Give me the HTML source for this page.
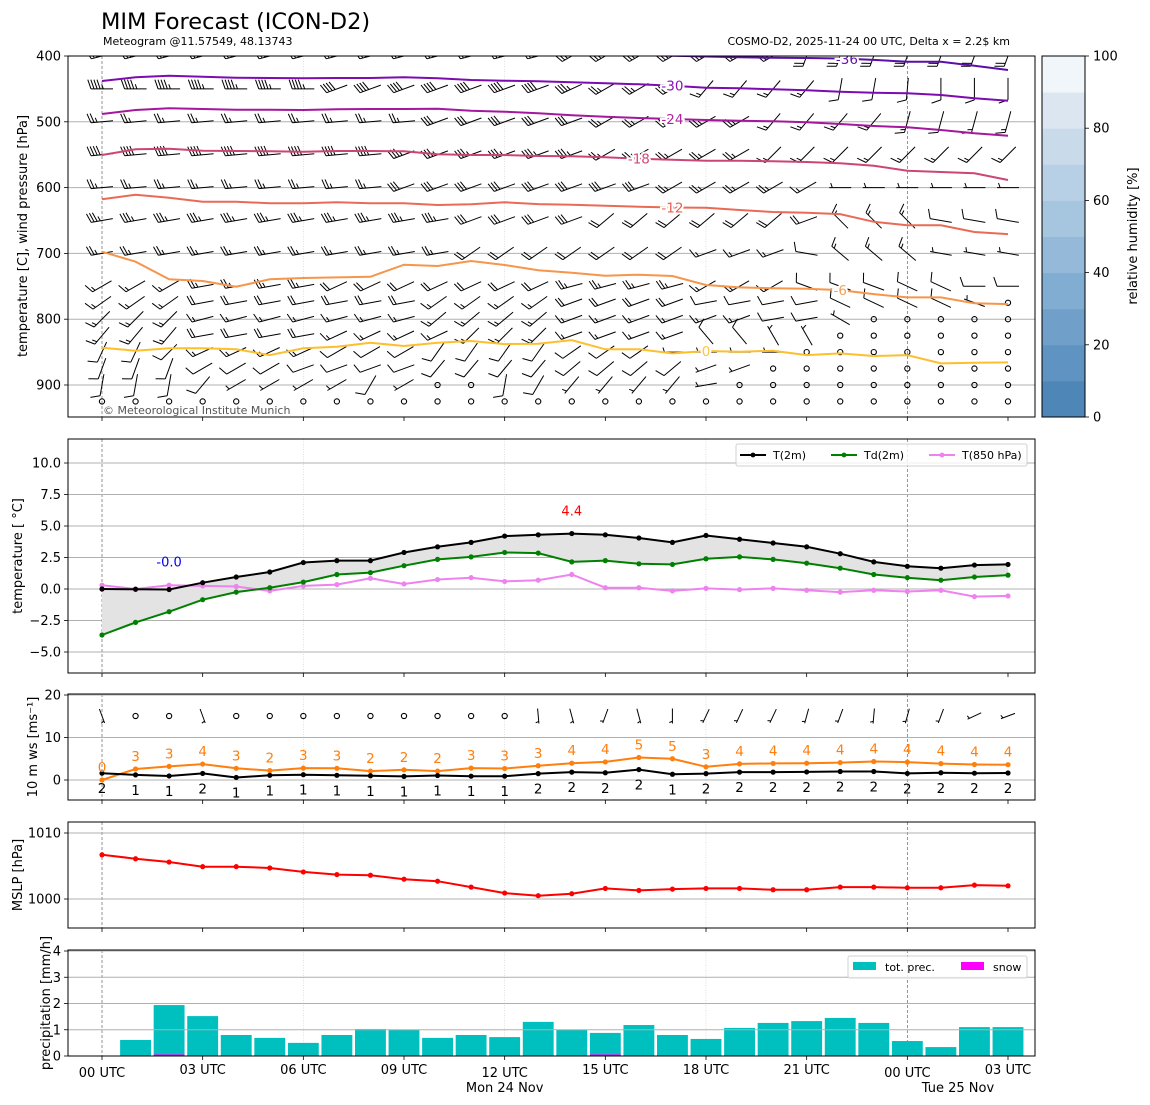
<!DOCTYPE html>
<html><head><meta charset="utf-8">
<style>
html,body{margin:0;padding:0;background:#fff;}
svg{display:block;font-family:"DejaVu Sans","Liberation Sans",sans-serif;}
</style></head>
<body>
<svg id="chart" width="1150" height="1105" viewBox="0 0 1150 1105" xmlns="http://www.w3.org/2000/svg">
<defs>
<clipPath id="clipTop"><rect x="68" y="56" width="967" height="361"/></clipPath>
</defs>
<text x="101" y="29" font-size="22.5" fill="#000">MIM Forecast (ICON-D2)</text>
<text x="103" y="45" font-size="11" fill="#000">Meteogram @11.57549, 48.13743</text>
<text x="1010" y="45" font-size="11" fill="#000" text-anchor="end">COSMO-D2, 2025-11-24 00 UTC, Delta x = 2.2$ km</text>
<g id="layer"></g>
</svg>
<script>
// ---------- data ----------
const hours = [0,1,2,3,4,5,6,7,8,9,10,11,12,13,14,15,16,17,18,19,20,21,22,23,24,25,26,27];
const xTickHours = [0,3,6,9,12,15,18,21,24,27];
const xTickLabels = ["00 UTC","03 UTC","06 UTC","09 UTC","12 UTC","15 UTC","18 UTC","21 UTC","00 UTC","03 UTC"];

const isoLevels = [-36,-30,-24,-18,-12,-6,0];
const isoM36 = [398,398,398,398,398,398,398,398,398,398,398,398,398,398,398,398,399,399.5,400.8,402,402.6,403,403.8,406,408.7,408.7,414.7,421.3];
const isoM30 = [438,432.4,429.9,431.5,433,433.4,433.9,433.4,433.4,432.4,433.9,436.5,437.5,438.5,440,441.5,443,445.1,448.2,449.1,450.6,452.1,454.3,455.8,456.7,459.3,464.3,467.9];
const isoM24 = [488.2,482.1,479.5,480.6,481.6,481.6,482.1,481,480.6,480.6,480.1,483.1,484.7,487.1,490.1,492.3,494.2,495.8,497.3,498.3,499.3,500.8,503.4,506.4,508.4,512.5,517.5,521.1];
const isoM18 = [550.5,541.8,540.9,543.9,544.4,544.9,545.5,544.4,544.4,544.9,549.4,550.5,550.5,552,552.5,554,556.1,557.6,559.1,559.1,560,561.1,563.1,566.7,574.3,576.3,578.3,588.5];
const isoM12 = [617.8,610.8,615.4,621.5,621.5,623.9,623.9,622.4,623.9,623.9,626.5,625.4,622.4,625,626,627.5,629.1,630.3,630.6,634.1,637.1,638.2,640.2,651.9,657.3,657.3,667.5,670.6];
const isoM6 = [697.4,712.6,739.4,742,750.6,739.4,737.4,736.4,735.5,717.2,719.2,711.6,717.7,725.7,729.4,733.9,732.4,734.4,748.1,751.6,753.1,753.7,755.7,761.8,766.8,766.8,775.9,777];
const iso0 = [843.4,847.9,844.3,844.3,845.8,854.5,844.3,841.9,835.8,840.8,835.8,833.2,837.8,837.3,831.7,845.8,845.8,851.9,848.4,849.5,847.9,854.5,851.9,856,854.5,867.1,866.2,865.6];
const isoLabelHour = [22.2,17,17,16,17,22,18];

const barbLevels = [400,450,500,550,600,650,700,750,775,800,825,850,875,900,925];
const spd400 = [45,45,45,45,45,45,45,45,45,45,45,45,45,45,30,30,30,30,30,30,30,20,20,20,20,20,20,20];
const dir400 = [255,255,255,255,255,255,255,255,255,255,255,255,255,255,240,240,240,240,240,240,240,200,200,200,200,200,200,200];
const spd450 = [45,45,45,45,45,45,45,40,40,40,40,40,40,40,35,25,25,25,15,15,15,15,10,10,10,10,10,10];
const dir450 = [270,270,270,270,270,270,270,250,250,250,250,250,250,250,245,240,240,240,220,220,220,220,190,190,185,180,180,180];
const spd500 = [25,25,25,25,25,25,25,25,25,25,30,30,30,30,30,25,25,25,25,25,15,15,15,15,15,15,15,15];
const dir500 = [265,265,265,265,265,265,265,265,265,265,250,250,250,250,250,240,240,240,240,240,220,220,220,220,195,195,195,195];
const spd550 = [40,40,40,40,40,40,40,40,40,35,35,35,35,35,35,25,25,25,25,25,15,15,15,15,15,15,15,15];
const dir550 = [265,265,265,265,265,265,265,265,265,250,250,250,250,250,250,240,240,240,240,240,225,225,225,225,225,225,225,225];
const spd600 = [25,25,25,25,25,25,25,25,25,30,30,30,30,30,30,30,30,25,25,25,25,15,5,5,5,5,5,5];
const dir600 = [265,265,265,265,265,265,265,265,265,250,250,250,250,250,250,250,250,240,240,240,240,240,270,270,270,270,270,270];
const spd650 = [35,35,35,35,35,35,35,35,35,35,35,30,30,30,30,20,20,20,20,20,20,20,15,15,15,10,10,10];
const dir650 = [260,260,260,260,260,260,260,260,260,260,260,250,250,250,250,230,230,230,230,230,230,250,315,315,315,280,280,280];
const spd700 = [25,25,25,25,25,25,25,25,25,25,25,20,20,20,20,20,20,20,15,15,15,10,15,15,15,5,5,5];
const dir700 = [260,260,260,260,260,260,260,260,260,260,260,235,235,235,235,235,235,235,250,250,250,280,310,310,310,280,280,280];
const spd750 = [15,15,15,25,25,25,25,20,20,20,20,20,20,20,25,25,25,25,15,15,15,10,10,10,10,10,10,10];
const dir750 = [240,240,240,260,260,260,260,245,245,245,245,245,245,245,255,255,255,255,240,240,240,290,290,290,295,295,270,270];
const spd775 = [15,15,15,20,20,20,20,20,20,20,15,15,15,15,20,20,20,20,10,10,10,10,10,10,10,10,5,0];
const dir775 = [235,235,235,260,260,260,260,260,260,260,235,235,235,235,250,250,250,250,260,260,260,260,295,295,295,295,290,0];
const spd800 = [15,15,15,15,15,15,15,15,15,15,15,15,15,15,15,15,15,15,15,15,10,10,5,0,0,0,0,0];
const dir800 = [225,225,225,255,255,255,255,255,255,255,230,230,230,230,250,250,250,250,250,250,260,260,300,0,0,0,0,0];
const spd825 = [15,15,15,20,20,20,20,15,15,15,15,15,15,15,15,15,15,15,10,10,5,5,0,0,0,0,0,0];
const dir825 = [220,220,220,260,260,260,260,245,245,245,245,225,225,225,250,250,250,250,320,320,330,330,0,0,0,0,0,0];
const spd850 = [10,10,10,15,15,15,15,10,10,10,10,10,10,10,10,10,10,5,5,5,5,0,0,0,0,0,0,0];
const dir850 = [205,205,225,245,245,245,245,240,240,240,215,215,215,215,235,235,235,270,270,270,270,0,0,0,0,0,0,0];
const spd875 = [10,10,10,10,10,10,10,10,10,10,10,10,10,10,10,10,10,10,5,5,0,0,0,0,0,0,0,0];
const dir875 = [200,200,200,240,240,240,250,250,250,250,220,220,220,220,230,230,230,230,250,250,0,0,0,0,0,0,0,0];
const spd900 = [10,10,10,10,5,5,5,5,10,5,0,0,10,10,5,5,5,5,5,0,0,0,0,0,0,0,0,0];
const dir900 = [190,190,190,220,240,240,240,240,210,240,0,0,190,210,220,220,220,220,260,0,0,0,0,0,0,0,0,0];
const spd925 = [0,0,0,0,0,0,0,0,0,0,0,0,0,0,0,0,0,0,0,0,0,0,0,0,0,0,0,0];
const dir925 = [0,0,0,0,0,0,0,0,0,0,0,0,0,0,0,0,0,0,0,0,0,0,0,0,0,0,0,0];

const pTicks = [400,500,600,700,800,900];
const rhTicks = [0,20,40,60,80,100];

const t2m = [0,-0.02,-0.04,0.5,0.95,1.35,2.1,2.25,2.25,2.9,3.35,3.7,4.2,4.3,4.4,4.3,4.05,3.7,4.25,3.95,3.65,3.35,2.8,2.15,1.8,1.65,1.9,1.95];
const td2m = [-3.65,-2.65,-1.8,-0.85,-0.25,0.1,0.55,1.15,1.3,1.85,2.35,2.55,2.9,2.85,2.15,2.25,2.0,1.95,2.4,2.55,2.35,2.05,1.65,1.15,0.9,0.7,0.95,1.1];
const t850 = [0.3,0.0,0.3,0.25,0.2,-0.15,0.25,0.35,0.85,0.4,0.75,0.9,0.6,0.7,1.15,0.1,0.1,-0.15,0.05,-0.05,0.05,-0.1,-0.25,-0.1,-0.2,-0.1,-0.6,-0.55];
const tTicks = [-5,-2.5,0,2.5,5,7.5,10];
const tTickLabels = ["−5.0","−2.5","0.0","2.5","5.0","7.5","10.0"];

const windSpeed = [1.6,1.2,0.95,1.55,0.6,1.1,1.25,1.1,1.0,0.85,1.05,0.9,0.9,1.5,1.85,1.7,2.45,1.35,1.5,1.85,1.85,1.9,2.0,2.0,1.55,1.7,1.6,1.65];
const windGust = [0,2.6,3.2,3.75,2.75,2.2,2.8,2.75,2.1,2.4,2.1,2.8,2.7,3.35,3.95,4.25,5.3,5.0,3.1,3.8,3.9,3.95,4.1,4.35,4.2,3.85,3.65,3.6];
const sfcBarbSpd = [5,0,0,5,0,0,0,0,0,0,0,0,0,5,5,5,5,5,5,5,5,5,5,5,5,5,5,5];
const sfcBarbDir = [160,0,0,160,0,0,0,0,0,0,0,0,0,175,165,200,165,180,205,205,205,195,200,185,195,200,245,250];
const wTicks = [0,10,20];

const mslp = [1006.7,1006.1,1005.6,1004.9,1004.9,1004.7,1004.1,1003.7,1003.6,1003.0,1002.7,1001.8,1000.9,1000.5,1000.8,1001.6,1001.3,1001.5,1001.6,1001.6,1001.4,1001.4,1001.8,1001.8,1001.7,1001.7,1002.1,1002.0];
const mTicks = [1000,1010];

const precipHours = [1,2,3,4,5,6,7,8,9,10,11,12,13,14,15,16,17,18,19,20,21,22,23,24,25,26,27];
const precip = [0.61,1.94,1.52,0.8,0.69,0.5,0.8,1.03,0.99,0.69,0.8,0.72,1.3,0.99,0.88,1.18,0.8,0.65,1.07,1.26,1.33,1.45,1.26,0.57,0.34,1.1,1.1];
const snow = [0,0.06,0,0,0,0,0,0,0,0,0,0,0,0,0.06,0,0,0,0,0,0,0,0,0,0,0,0];
const rTicks = [0,1,2,3,4];

// ---------- scales ----------
const X0 = 102, DX = 906/27;
function xs(h){ return X0 + h*DX; }
function pyTop(p){ return 56 + (p-400)*0.658; }
function tyT(v){ return 589 - v*12.6; }
function wyW(v){ return 780 - v*4.25; }
function myM(v){ return 899 - (v-1000)*6.6; }
function ryR(v){ return 1056 - v*26.25; }

const NS = "http://www.w3.org/2000/svg";
const layer = document.getElementById('layer');
function mk(tag, attrs, parent){
  const e = document.createElementNS(NS, tag);
  for (const k in attrs) e.setAttribute(k, attrs[k]);
  (parent||layer).appendChild(e);
  return e;
}
function grp(name){
  const g = mk('g', {});
  
  
  return g;
}

const panels = [
  {name:'upper-air', top:56, bottom:417},
  {name:'temperature', top:439, bottom:673},
  {name:'wind', top:694, bottom:800},
  {name:'mslp', top:822, bottom:928},
  {name:'precip', top:950, bottom:1056}
];

panels.forEach(pn => {
  const g = grp(pn.name + '-x-grid');
  [0,6,12,18,24].forEach(h => {
    const dark = (h===0 || h===24);
    const l = mk('line', {x1:xs(h), x2:xs(h), y1:pn.top, y2:pn.bottom, stroke: dark?'#666':'#ccc', 'stroke-width': dark?0.7:0.6, 'stroke-dasharray': dark?'3,2':'1,1.5'}, g);
    
    
  });
  xTickHours.forEach(h => {
    const t = mk('line', {x1:xs(h), x2:xs(h), y1:pn.bottom, y2:pn.bottom+4, stroke:'#000', 'stroke-width':0.8}, g);
    
    
  });
});

function hgrid(g, y){
  const l = mk('line', {x1:68, x2:1035, y1:y, y2:y, stroke:'#b0b0b0', 'stroke-width':1}, g);
  
  
}
function ytick(g, y, label){
  const t = mk('line', {x1:64, x2:68, y1:y, y2:y, stroke:'#000', 'stroke-width':0.8}, g);
  
  
  const tx = mk('text', {x:61, y:y+4.5, 'font-size':13, 'text-anchor':'end', fill:'#000'}, g);
  tx.textContent = label;
  
  
}
function ylabel(g, x, y, txt){
  const t = mk('text', {x:x, y:y, 'font-size':13, 'text-anchor':'middle', fill:'#000', transform:'rotate(-90 '+x+' '+y+')'}, g);
  t.textContent = txt;
  
  
}
function frame(pn){
  const r = mk('rect', {x:68, y:pn.top, width:967, height:pn.bottom-pn.top, fill:'none', stroke:'#000', 'stroke-width':1});
  
  
}

function barb(g, cx, cy, dir, spd, L, name){
  if (spd < 2.5) {
    const c = mk('circle', {cx:cx, cy:cy, r:2.6, fill:'none', stroke:'#000', 'stroke-width':1.1}, g);
    
    
    return;
  }
  const a = dir*Math.PI/180;
  const ux = Math.sin(a), uy = -Math.cos(a);
  const px = -uy, py = ux;
  const sx = cx - ux*L/2, sy = cy - uy*L/2;
  const ex = cx + ux*L/2, ey = cy + uy*L/2;
  let d = 'M'+sx.toFixed(1)+','+sy.toFixed(1)+'L'+ex.toFixed(1)+','+ey.toFixed(1);
  let s = Math.round(spd/5)*5;
  let n50 = Math.floor(s/50); s -= n50*50;
  let n10 = Math.floor(s/10); s -= n10*10;
  let n5 = s>=5?1:0;
  const full = L*0.42, sp = L*0.14;
  let k = 0;
  for (let i=0;i<n10;i++){
    const bx = ex - ux*k*sp, by = ey - uy*k*sp;
    d += 'M'+bx.toFixed(1)+','+by.toFixed(1)+'L'+(bx+px*full+ux*full*0.35).toFixed(1)+','+(by+py*full+uy*full*0.35).toFixed(1);
    k++;
  }
  if (n5){
    if (k===0 && n10===0) k = 1;
    const bx = ex - ux*k*sp, by = ey - uy*k*sp;
    const hf = full*0.5;
    d += 'M'+bx.toFixed(1)+','+by.toFixed(1)+'L'+(bx+px*hf+ux*hf*0.35).toFixed(1)+','+(by+py*hf+uy*hf*0.35).toFixed(1);
  }
  const p = mk('path', {d:d, stroke:'#000', 'stroke-width':1, fill:'none'}, g);
  
  
}

// ---------- Panel 1 ----------
(function(){
  const pn = panels[0];
  const g = grp('upper-air-panel');
  pTicks.forEach(p => { if (p>400) hgrid(g, pyTop(p)); ytick(g, pyTop(p), String(p)); });
  ylabel(g, 27, 236, 'temperature [C], wind pressure [hPa]');
  const cg = mk('g', {'clip-path':'url(#clipTop)'}, g);
  
  
  const spds = [spd400,spd450,spd500,spd550,spd600,spd650,spd700,spd750,spd775,spd800,spd825,spd850,spd875,spd900,spd925];
  const dirs = [dir400,dir450,dir500,dir550,dir600,dir650,dir700,dir750,dir775,dir800,dir825,dir850,dir875,dir900,dir925];
  barbLevels.forEach((lev, li) => {
    hours.forEach((h, i) => {
      barb(cg, xs(h), pyTop(lev), dirs[li][i], spds[li][i], 22, 'wind-barb-' + lev);
    });
  });
  const isoData = [isoM36, isoM30, isoM24, isoM18, isoM12, isoM6, iso0];
  const isoColors = ['#5a0fa8','#7d0bb0','#a3189c','#cc4577','#ea6a55','#f7954a','#fdbf2d'];
  const labColors = ['#6a10b0','#8a10b8','#b0259e','#d04a78','#ea6050','#f8a050','#ffc540'];
  isoData.forEach((arr, k) => {
    const d = hours.map((h,i)=>(i?'L':'M')+xs(h).toFixed(1)+','+pyTop(arr[i]).toFixed(1)).join('');
    const l = mk('path', {d:d, stroke:isoColors[k], 'stroke-width':2, fill:'none'}, cg);
    
    
    const lh = isoLabelHour[k];
    const i0 = Math.floor(lh), f = lh - i0;
    const pv = arr[i0]*(1-f) + arr[Math.min(i0+1,27)]*f;
    const t = mk('text', {x:xs(lh), y:pyTop(pv)+5, 'font-size':13.5, 'text-anchor':'middle', fill:labColors[k], stroke:'#fff', 'stroke-width':4, 'paint-order':'stroke'}, cg);
    t.textContent = String(isoLevels[k]);
    
    
  });
  const cp = mk('text', {x:103, y:414, 'font-size':11, fill:'#555'}, g);
  cp.textContent = '© Meteorological Institute Munich';
  
  
  frame(pn);
  const cb = grp('humidity-colorbar');
  const bandColors = ['#4f86b8','#5e93c2','#70a0ca','#82add2','#94b9d9','#a6c5df','#b7d0e6','#c9dbeb','#dbe6f1','#f1f6fa'];
  bandColors.forEach((c,i) => {
    const y1 = 417 - (i+1)*36.1;
    const r = mk('rect', {x:1042, y:y1, width:43, height:36.6, fill:c}, cb);
    
    
  });
  const fr = mk('rect', {x:1042, y:56, width:43, height:361, fill:'none', stroke:'#000', 'stroke-width':1}, cb);
  
  
  rhTicks.forEach(v => {
    const y = 417 - v*3.61;
    const t = mk('line', {x1:1085, x2:1089, y1:y, y2:y, stroke:'#000', 'stroke-width':0.8}, cb);
    
    
    const tx = mk('text', {x:1093, y:y+4.5, 'font-size':13, fill:'#000'}, cb);
    tx.textContent = String(v);
    
    
  });
  const cl = mk('text', {x:1137, y:236, 'font-size':13, 'text-anchor':'middle', fill:'#000', transform:'rotate(-90 1137 236)'}, cb);
  cl.textContent = 'relative humidity [%]';
  
  
})();

function series(g, arr, yf, color, name, r){
  const d = hours.map((h,i)=>(i?'L':'M')+xs(h).toFixed(1)+','+yf(arr[i]).toFixed(1)).join('');
  const l = mk('path', {d:d, stroke:color, 'stroke-width':2, fill:'none'}, g);
  
  
  hours.forEach((h,i) => {
    const c = mk('circle', {cx:xs(h), cy:yf(arr[i]), r:r||2.6, fill:color}, g);
    
    
  });
}

// ---------- Panel 2 ----------
(function(){
  const pn = panels[1];
  const g = grp('temperature-panel');
  tTicks.forEach((v,i) => { hgrid(g, tyT(v)); ytick(g, tyT(v), tTickLabels[i]); });
  ylabel(g, 22, 556, 'temperature [ °C]');
  let d = hours.map((h,i)=>(i?'L':'M')+xs(h).toFixed(1)+','+tyT(t2m[i]).toFixed(1)).join('');
  for (let i=hours.length-1;i>=0;i--) d += 'L'+xs(hours[i]).toFixed(1)+','+tyT(td2m[i]).toFixed(1);
  const f = mk('path', {d:d+'Z', fill:'#e3e3e3', stroke:'none'}, g);
  
  
  series(g, t850, tyT, '#ee82ee', 't850');
  series(g, td2m, tyT, '#008000', 'td2m');
  series(g, t2m, tyT, '#000000', 't2m');
  let imin = 0, imax = 0;
  t2m.forEach((v,i)=>{ if (v<t2m[imin]) imin=i; if (v>t2m[imax]) imax=i; });
  const mn = mk('text', {x:xs(hours[imin]), y:tyT(t2m[imin])-23, 'font-size':13, 'text-anchor':'middle', fill:'#0000ff'}, g);
  mn.textContent = t2m[imin].toFixed(1);
  
  
  const mx = mk('text', {x:xs(hours[imax]), y:tyT(t2m[imax])-18, 'font-size':13, 'text-anchor':'middle', fill:'#ff0000'}, g);
  mx.textContent = t2m[imax].toFixed(1);
  
  
  const lg = grp('temperature-legend');
  const lb = mk('rect', {x:736, y:444, width:291, height:22, rx:2, fill:'#fff', 'fill-opacity':0.8, stroke:'#d0d0d0'}, lg);
  
  
  [['T(2m)','#000',740],['Td(2m)','#008000',831],['T(850 hPa)','#ee82ee',929]].forEach(e => {
    const ln = mk('line', {x1:e[2], x2:e[2]+26, y1:455, y2:455, stroke:e[1], 'stroke-width':2}, lg);
    
    
    const c = mk('circle', {cx:e[2]+13, cy:455, r:2.4, fill:e[1]}, lg);
    
    
    const t = mk('text', {x:e[2]+33, y:459, 'font-size':11, fill:'#000'}, lg);
    t.textContent = e[0];
    
    
  });
  frame(pn);
})();

// ---------- Panel 3 ----------
(function(){
  const pn = panels[2];
  const g = grp('wind-panel');
  wTicks.forEach(v => { hgrid(g, wyW(v)); ytick(g, wyW(v), String(v)); });
  ylabel(g, 37, 747, '10 m ws [ms⁻¹]');
  hours.forEach((h,i) => barb(g, xs(h), 716, sfcBarbDir[i], sfcBarbSpd[i], 15, 'surface-wind-barb'));
  series(g, windGust, wyW, '#ff7f0e', 'wind-gust');
  series(g, windSpeed, wyW, '#000000', 'wind-speed');
  hours.forEach((h,i) => {
    const a = mk('text', {x:xs(h), y:wyW(windGust[i])-8, 'font-size':13.5, 'text-anchor':'middle', fill:'#ff7f0e'}, g);
    a.textContent = String(Math.round(windGust[i]));
    
    
    const b = mk('text', {x:xs(h), y:wyW(windSpeed[i])+20, 'font-size':13.5, 'text-anchor':'middle', fill:'#000'}, g);
    b.textContent = String(Math.round(windSpeed[i]));
    
    
  });
  frame(pn);
})();

// ---------- Panel 4 ----------
(function(){
  const pn = panels[3];
  const g = grp('mslp-panel');
  mTicks.forEach(v => { hgrid(g, myM(v)); ytick(g, myM(v), String(v)); });
  ylabel(g, 22, 875, 'MSLP [hPa]');
  series(g, mslp, myM, '#ff0000', 'mslp');
  frame(pn);
})();

// ---------- Panel 5 ----------
(function(){
  const pn = panels[4];
  const g = grp('precip-panel');
  const bw = DX*0.92;
  precipHours.forEach((h,i) => {
    const r = mk('rect', {x:xs(h)-bw/2, y:ryR(precip[i]), width:bw, height:ryR(0)-ryR(precip[i]), fill:'#00bfbf'}, g);
    
    
    if (snow[i] > 0) {
      const s = mk('rect', {x:xs(h)-bw/2, y:ryR(snow[i]), width:bw, height:ryR(0)-ryR(snow[i]), fill:'#ff00ff'}, g);
      
      
    }
  });
  rTicks.forEach(v => { if (v>0) hgrid(g, ryR(v)); ytick(g, ryR(v), String(v)); });
  ylabel(g, 50, 1003, 'precipitation [mm/h]');
  const lg = grp('precip-legend');
  const lb = mk('rect', {x:848, y:956, width:179, height:22, rx:2, fill:'#fff', 'fill-opacity':0.8, stroke:'#d0d0d0'}, lg);
  
  
  [['tot. prec.','#00bfbf',853],['snow','#ff00ff',961]].forEach(e => {
    const r = mk('rect', {x:e[2], y:962, width:23, height:8, fill:e[1]}, lg);
    
    
    const t = mk('text', {x:e[2]+32, y:971, 'font-size':11, fill:'#000'}, lg);
    t.textContent = e[0];
    
    
  });
  frame(pn);
  const xg = grp('x-axis-labels');
  xTickHours.forEach((h,i) => {
    const major = (h===0 || h===12 || h===24);
    const t = mk('text', {x:xs(h), y:major?1077:1074, 'font-size':13, 'text-anchor':'middle', fill:'#000'}, xg);
    t.textContent = xTickLabels[i];
    
    
  });
  const d1 = mk('text', {x:xs(12), y:1092, 'font-size':13, 'text-anchor':'middle', fill:'#000'}, xg);
  d1.textContent = 'Mon 24 Nov';
  
  
  const d2 = mk('text', {x:958, y:1092, 'font-size':13, 'text-anchor':'middle', fill:'#000'}, xg);
  d2.textContent = 'Tue 25 Nov';
  
  
})();
</script>
</body></html>
